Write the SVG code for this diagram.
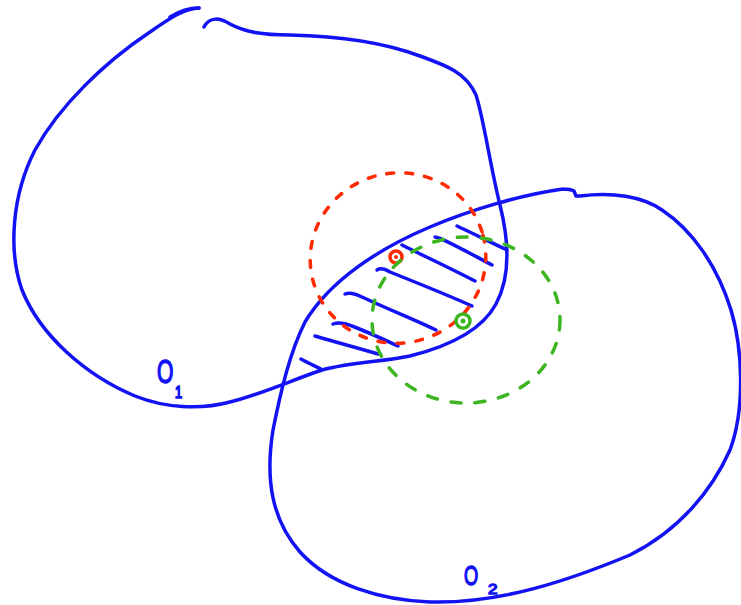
<svg xmlns="http://www.w3.org/2000/svg" width="741" height="605" viewBox="0 0 741 605">
<style>
.b{fill:none;stroke:#1212f5;stroke-width:3.5;stroke-linecap:round;stroke-linejoin:round}
.h{fill:none;stroke:#1212f5;stroke-width:3.5;stroke-linecap:round}
.r{fill:none;stroke:#ff2a00;stroke-width:3.5;stroke-linecap:round;stroke-dasharray:7 12}
.g{fill:none;stroke:#3cb521;stroke-width:3.5;stroke-linecap:round;stroke-dasharray:10 14}
.lbl{font-family:"Liberation Sans",Arial,sans-serif;fill:#1212f5;stroke:#1212f5;stroke-width:1.6}
</style>
<rect width="741" height="605" fill="#fff"/>
<g id="O1">
<path class="b" d="M199,8 C185,8 170,18 150,32 C105,62 60,105 35,150 C12,195 8,250 22,290 C40,335 85,375 135,396 C165,408 200,410 230,402 C262,394 292,380 322,370 C352,362 382,362 410,356 C450,346 482,330 496,304 C510,278 510,245 500,205 C490,165 484,120 476,95 C466,72 445,65 420,56 C385,43 340,36 290,35 C262,35 245,32 230,24 C220,18 210,16 204,27"/>
<text class="lbl" transform="translate(157,383) scale(0.62,1)" font-size="34">O</text>
<text class="lbl" transform="translate(175,398) scale(0.8,1)" font-size="16">1</text>
</g>
<g id="O2">
<path class="b" d="M563,189 C520,195 470,210 430,227 C380,248 330,280 305,322 C290,352 281,390 273,430 C265,480 272,520 300,552 C330,585 380,600 430,602 C500,604 570,580 630,555 C680,530 712,490 730,450 C745,410 743,350 731,310 C717,265 692,230 662,210 C642,196 612,192 580,196 L576,196 L574,191 C570,189 567,189 563,189"/>
<text class="lbl" transform="translate(464,585) scale(0.65,1)" font-size="28">O</text>
<text class="lbl" transform="translate(488,594) scale(1,0.9)" font-size="17">2</text>
</g>
<g id="hatch">
<path class="h" d="M457,226 C470,232 490,242 507,250"/>
<path class="h" d="M435,237 C440,237 460,248 492,265"/>
<path class="h" d="M402,245 C420,254 450,268 475,281"/>
<path class="h" d="M377,270 C380,268 385,269 390,272 C420,284 450,296 472,306"/>
<path class="h" d="M345,294 C350,292 356,294 362,297 C390,310 415,320 436,330"/>
<path class="h" d="M333,324 C338,322 345,323 352,326 C370,333 385,340 398,346"/>
<path class="h" d="M315,336 C335,342 358,348 378,354"/>
<path class="h" d="M301,359 C308,363 315,366 321,369"/>
</g>
<g id="red-ball">
<ellipse class="r" cx="398" cy="258" rx="88" ry="85" transform="rotate(-15 398 258)"/>
<circle cx="396" cy="257" r="6" fill="none" stroke="#ff2a00" stroke-width="3.5"/>
<circle cx="396" cy="257" r="2" fill="#ff2a00"/>
</g>
<g id="green-ball">
<ellipse class="g" cx="466" cy="320" rx="94" ry="83"/>
<circle cx="463" cy="321" r="7" fill="none" stroke="#3cb521" stroke-width="3.5"/>
<circle cx="463" cy="321" r="2.5" fill="#3cb521"/>
</g>
<g id="top-stroke">
<path class="b" d="M170,17 C178,12 186,8 199,8"/>
</g>
</svg>
